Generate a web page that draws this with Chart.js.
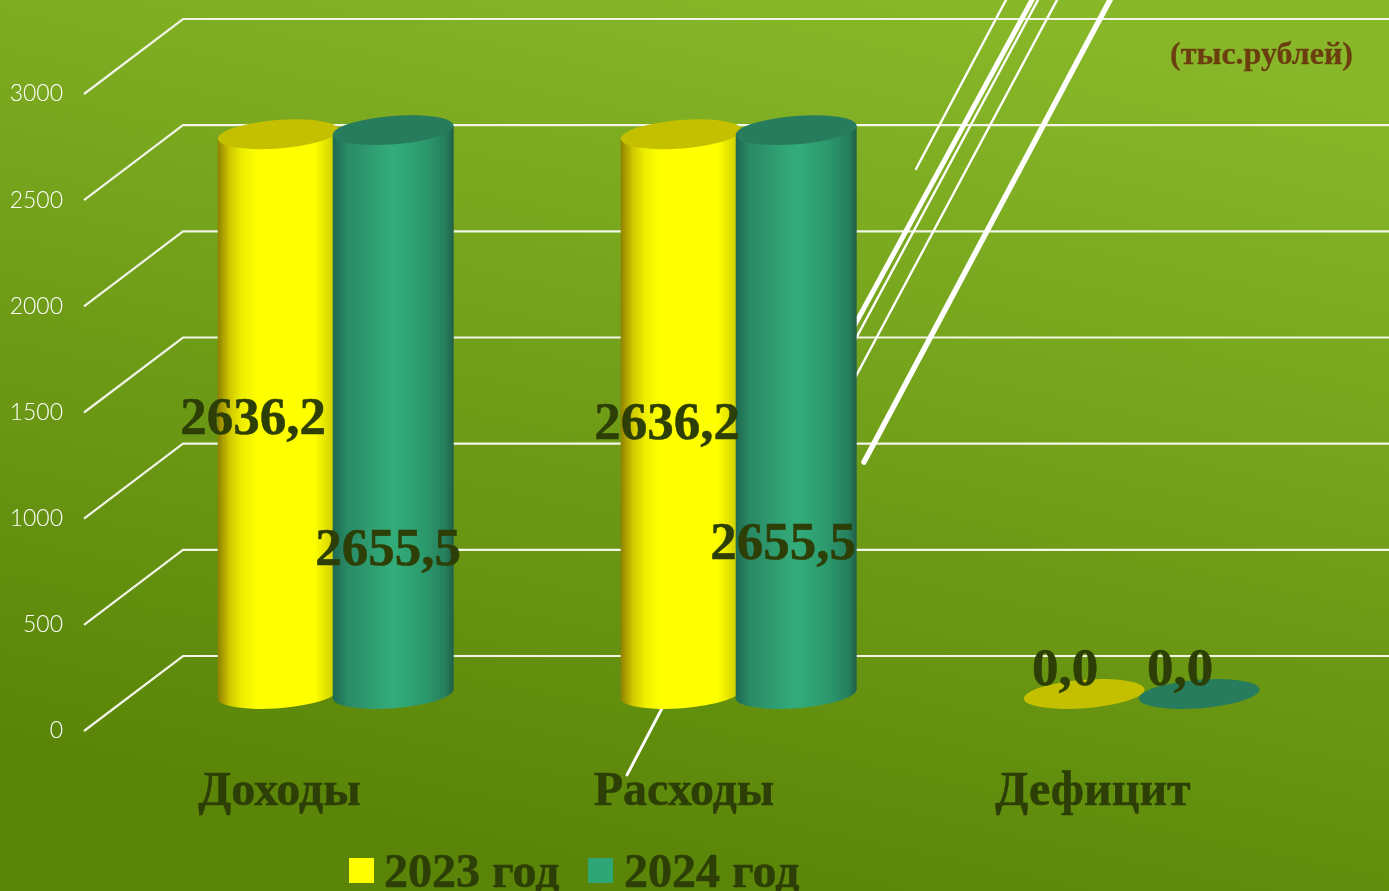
<!DOCTYPE html>
<html>
<head>
<meta charset="utf-8">
<style>
  html, body { margin: 0; padding: 0; background: #6b9615; overflow: hidden; }
  #wrap { width: 1389px; height: 891px; position: relative; }
</style>
<script src="https://cdn.jsdelivr.net/npm/chart.js@4"></script>
</head>
<body>
<div id="wrap"><canvas id="chart" width="1389" height="891"></canvas></div>
<script>
const categories = ['Доходы', 'Расходы', 'Дефицит'];
const seriesNames = ['2023 год', '2024 год'];
const values2023 = [2636.2, 2636.2, 0];
const values2024 = [2655.5, 2655.5, 0];
const tickStep = 500;
const tickMax = 3000;

// hand-placed in the original slide, so not tied to the bars
const labelSpots = [
  [[253, 420], [667, 425], [1065, 671]],
  [[388, 551], [783, 545], [1180, 671]],
];
const categoryNudge = [-6, -4.5, 1.5];

// stray leader lines left on the slide: x1, y1, x2, y2, width
const strayLines = [
  [916, 169, 1006, 0, 2.4],
  [840, 352, 1032, 0, 5],
  [840, 368, 1038, 0, 2.4],
  [840, 406, 1057, 0, 2.4],
  [864, 462, 1110, 0, 5.5],
  [627, 775, 680, 674, 2.8],
];

const DEPTH_X = 99;
const DEPTH_Y = 75;
const SERIF = '"Liberation Serif", serif';
const DARK = '#2d3f06';

const cylinderStyles = [
  {
    top: '#c4c000',
    stops: [[0, '#8f8000'], [0.1, '#cfc800'], [0.2, '#eeee00'], [0.33, '#ffff00'], [0.8, '#ffff00'], [0.95, '#d2d200'], [1, '#b8b800']],
  },
  {
    top: '#267c5c',
    stops: [[0, '#1e6a50'], [0.12, '#2a8a66'], [0.5, '#33ad7b'], [0.75, '#2c9a6e'], [0.93, '#267f5e'], [1, '#1f5f47']],
  },
];

function drawCylinder(ctx, bar, style) {
  // bars stand halfway back in the 3d box
  const cx = bar.x + DEPTH_X / 2 + 0.7;
  const topY = bar.y - 37;
  const baseY = bar.base - 37;
  const rx = bar.width / 2;
  const ry = 14.2;
  const tilt = -4.5 * Math.PI / 180;
  const sag = 4.5;

  if (baseY - topY > 1) {
    const grad = ctx.createLinearGradient(cx - rx, 0, cx + rx, 0);
    style.stops.forEach(([pos, color]) => grad.addColorStop(pos, color));
    ctx.fillStyle = grad;
    ctx.beginPath();
    ctx.moveTo(cx - rx, topY + sag);
    ctx.lineTo(cx - rx, baseY + sag);
    ctx.lineTo(cx + rx, baseY - sag);
    ctx.lineTo(cx + rx, topY - sag);
    ctx.closePath();
    ctx.fill();
    ctx.beginPath();
    ctx.ellipse(cx, baseY, rx, ry, tilt, 0, Math.PI * 2);
    ctx.fill();
  }

  ctx.fillStyle = style.top;
  ctx.beginPath();
  ctx.ellipse(cx, topY, rx, ry, tilt, 0, Math.PI * 2);
  ctx.fill();
}

function heavyText(ctx, text, x, y) {
  ctx.fillText(text, x, y);
  ctx.strokeText(text, x, y);
}

const slidePlugin = {
  id: 'slide',
  beforeDraw(chart) {
    const { ctx, width, height } = chart;
    const bg = ctx.createLinearGradient(900, -20, 700, 891);
    bg.addColorStop(0, '#88b829');
    bg.addColorStop(1, '#5a8508');
    ctx.fillStyle = bg;
    ctx.fillRect(0, 0, width, height);
  },
  beforeDatasetsDraw(chart) {
    const { ctx, scales, width } = chart;
    ctx.save();
    ctx.strokeStyle = '#f1f5e6';
    ctx.lineWidth = 2.2;
    scales.y.ticks.forEach((t) => {
      const y = scales.y.getPixelForValue(t.value);
      ctx.beginPath();
      ctx.moveTo(scales.x.left, y);
      ctx.lineTo(scales.x.left + DEPTH_X, y - DEPTH_Y);
      ctx.lineTo(width, y - DEPTH_Y);
      ctx.stroke();
    });
    ctx.strokeStyle = '#ffffff';
    ctx.lineCap = 'round';
    strayLines.forEach(([x1, y1, x2, y2, w]) => {
      ctx.lineWidth = w;
      ctx.beginPath();
      ctx.moveTo(x1, y1);
      ctx.lineTo(x2, y2);
      ctx.stroke();
    });
    ctx.restore();

    // chart.js paints the first dataset last, here green has to overlap yellow
    chart.data.datasets.forEach((ds, i) => {
      chart.getDatasetMeta(i).data.forEach((bar) => drawCylinder(ctx, bar, cylinderStyles[i]));
    });
  },
  beforeDatasetDraw() {
    return false;
  },
  afterDraw(chart) {
    const { ctx, scales } = chart;
    ctx.save();
    ctx.textBaseline = 'middle';
    ctx.textAlign = 'center';
    ctx.fillStyle = DARK;
    ctx.strokeStyle = DARK;
    ctx.lineWidth = 0.5;
    ctx.font = 'bold 53px ' + SERIF;
    chart.data.datasets.forEach((ds, i) => {
      ds.data.forEach((v, j) => {
        const [x, y] = labelSpots[i][j];
        heavyText(ctx, v.toFixed(1).replace('.', ','), x, y);
      });
    });

    ctx.font = 'bold 48px ' + SERIF;
    categories.forEach((name, i) => {
      heavyText(ctx, name, scales.x.getPixelForTick(i) + categoryNudge[i], 793);
    });

    // legend, the text sits closer to the box than the built-in one allows
    ctx.textAlign = 'left';
    [[349, 384], [588, 624]].forEach(([boxX, textX], i) => {
      ctx.fillStyle = chart.data.datasets[i].backgroundColor;
      ctx.fillRect(boxX, 858, 25, 25);
      ctx.fillStyle = DARK;
      heavyText(ctx, chart.data.datasets[i].label, textX, 875);
    });

    ctx.textAlign = 'right';
    ctx.fillStyle = '#6b3e10';
    ctx.strokeStyle = '#6b3e10';
    ctx.lineWidth = 0.3;
    ctx.font = 'bold 32px ' + SERIF;
    heavyText(ctx, '(тыс.рублей)', 1353, 56);
    ctx.restore();
  },
};

new Chart(document.getElementById('chart'), {
  type: 'bar',
  data: {
    labels: categories,
    datasets: [
      { label: seriesNames[0], data: values2023, backgroundColor: '#ffff00' },
      { label: seriesNames[1], data: values2024, backgroundColor: '#2fa676' },
    ],
  },
  options: {
    responsive: false,
    animation: false,
    categoryPercentage: 0.5707,
    barPercentage: 1.052,
    layout: { padding: { top: 94, right: 96, bottom: 0, left: 0 } },
    plugins: {
      legend: { display: false },
      tooltip: { enabled: false },
    },
    scales: {
      x: {
        grid: { display: false },
        border: { display: false },
        afterFit: (s) => { s.height = 160; },
        ticks: { display: false },
      },
      y: {
        min: 0,
        max: tickMax,
        grid: { display: false },
        border: { display: false },
        afterFit: (s) => { s.width = 84; },
        ticks: {
          stepSize: tickStep,
          padding: 13,
          color: '#ffffff',
          font: { family: 'Lato', size: 23, weight: '300' },
          callback: (v) => String(v),
        },
      },
    },
  },
  plugins: [slidePlugin],
});
</script>
</body>
</html>
